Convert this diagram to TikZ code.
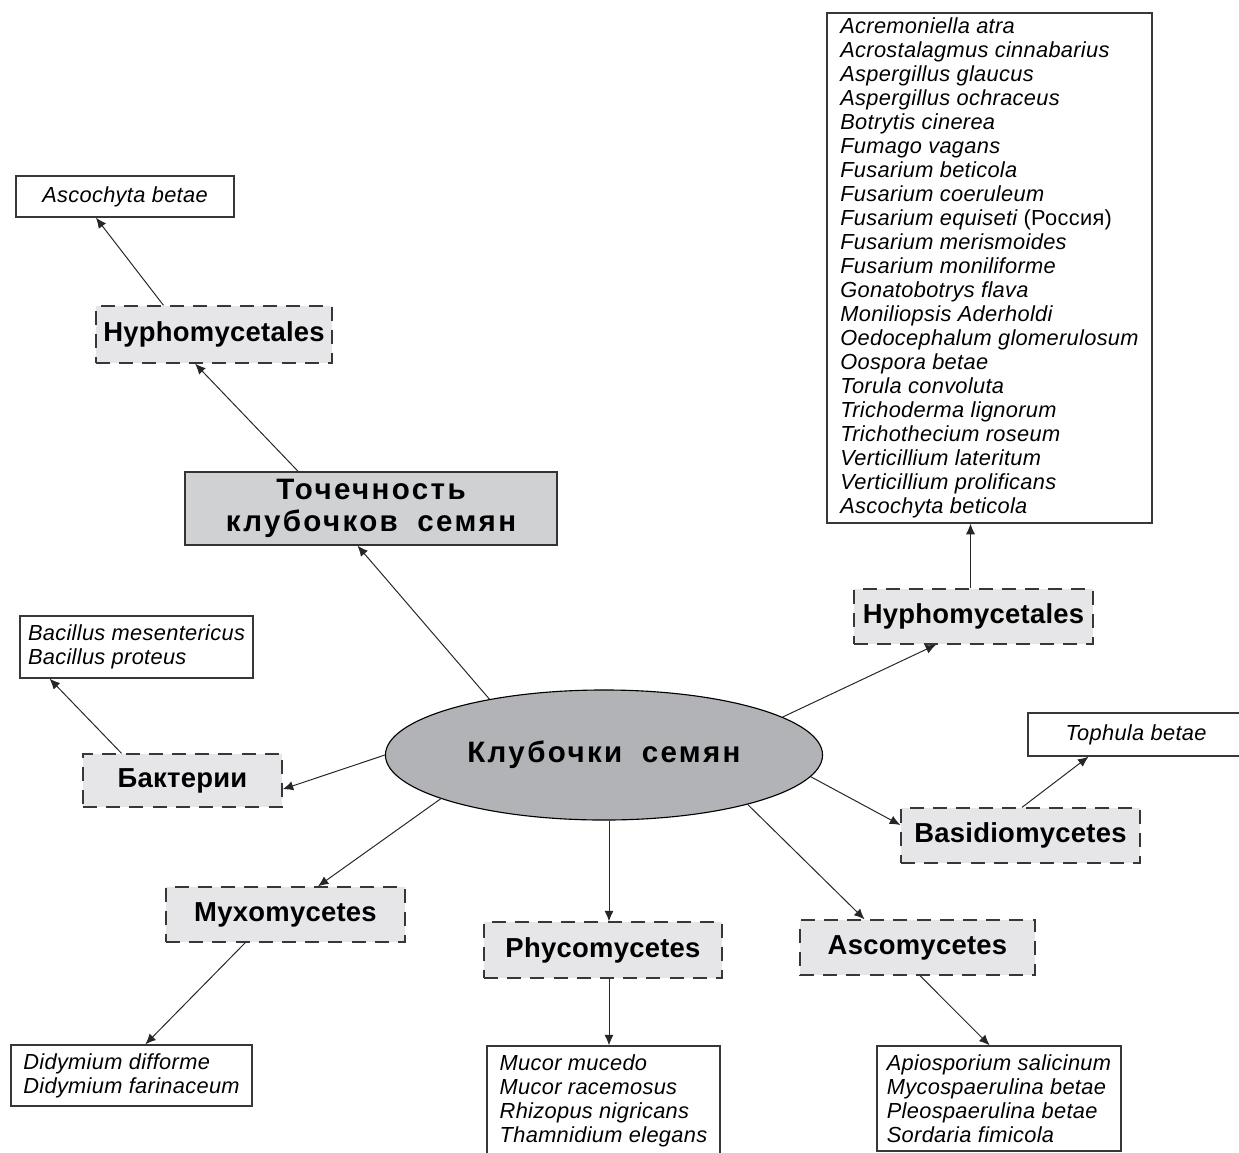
\documentclass[tikz,border=0pt]{standalone}
\usepackage{fontspec}
\setmainfont{Liberation Sans}
\usetikzlibrary{shapes.geometric, arrows.meta}

\definecolor{rootgray}{RGB}{178,179,182}
\definecolor{boxgray}{RGB}{208,209,211}
\definecolor{groupgray}{RGB}{230,230,232}
\definecolor{linegray}{RGB}{55,55,55}

\tikzset{
->, % every connector gets an arrow head
>={Latex[length=7.5pt,width=6.5pt]}, % small filled heads
x=0.025cm, y=-0.025cm, % one unit is one pixel of the layout, y runs down
every edge/.style={draw, line width=0.7pt, black!85}, % thin connectors
group/.style={draw=linegray, line width=0.9pt, dash pattern=on 10pt off 6.5pt, fill=groupgray, inner sep=0pt, font=\fontsize{19.5}{22}\selectfont\bfseries\addfontfeatures{LetterSpace=1}}, % dashed class boxes
title/.style={draw=black!80, line width=0.9pt, align=center, font=\fontsize{21}{22.8}\selectfont\bfseries\addfontfeatures{LetterSpace=8}}, % the two big labels
species/.style={draw=linegray, line width=0.9pt, fill=white, inner sep=0pt, align=left, font=\fontsize{15.5}{17.07}\selectfont\itshape\addfontfeatures{LetterSpace=1.5}}, % lists of species
}

\begin{document}
\begin{tikzpicture}
        \useasboundingbox (0,0) rectangle (1239,1153);
        \clip (0,0) rectangle (1239,1153);

        % centre
        \node[title, ellipse, draw=black, line width=0.8pt, fill=rootgray, minimum width=10.925cm, minimum height=3.25cm] (root) at (604,755) {Клубочки\hspace{0.3em} семян};
        \node[title, fill=boxgray, minimum width=9.3cm, minimum height=1.825cm] (tochka) at (371,508.5) {Точечность\\клубочков\hspace{0.3em} семян};

        % classes
        \node[group, minimum width=5.9cm, minimum height=1.425cm] (hyphoA) at (214,334.5) {Hyphomycetales};
        \node[group, minimum width=5.975cm, minimum height=1.375cm] (hyphoB) at (973.5,616.5) {Hyphomycetales};
        \node[group, minimum width=4.975cm, minimum height=1.325cm] (bakt) at (182.5,780.5) {Бактерии};
        \node[group, minimum width=5.975cm, minimum height=1.375cm] (basidio) at (1020.5,835.5) {Basidiomycetes};
        \node[group, minimum width=5.975cm, minimum height=1.375cm] (myxo) at (285.5,914.5) {Myxomycetes};
        \node[group, minimum width=5.95cm, minimum height=1.4cm] (phyco) at (603,950) {Phycomycetes};
        \node[group, minimum width=5.875cm, minimum height=1.375cm] (asco) at (917.5,947.5) {Ascomycetes};

        % species
        \node[species, minimum width=5.45cm, minimum height=1.025cm, align=center] (betae) at (125,196.5) {Ascochyta betae};
        \node[species, minimum width=8.125cm, minimum height=12.75cm] (hyphoList) at (989.5,268) {Acremoniella atra\\Acrostalagmus cinnabarius\\Aspergillus glaucus\\Aspergillus ochraceus\\Botrytis cinerea\\Fumago vagans\\Fusarium beticola\\Fusarium coeruleum\\Fusarium equiseti {\upshape(Россия)}\\Fusarium merismoides\\Fusarium moniliforme\\Gonatobotrys flava\\Moniliopsis Aderholdi\\Oedocephalum glomerulosum\\Oospora betae\\Torula convoluta\\Trichoderma lignorum\\Trichothecium roseum\\Verticillium lateritum\\Verticillium prolificans\\Ascochyta beticola};
        \node[species, minimum width=5.4cm, minimum height=1.075cm, align=center] (tophula) at (1136,734.5) {Tophula betae};
        \node[species, minimum width=5.825cm, minimum height=1.55cm] (bacil) at (136.5,647) {Bacillus mesentericus\\Bacillus proteus};
        \node[species, minimum width=6.025cm, minimum height=1.525cm] (didym) at (131.5,1075.5) {Didymium difforme\\Didymium farinaceum};
        \node[species, minimum width=5.825cm, minimum height=2.75cm] (mucor) at (603.5,1101) {Mucor mucedo\\Mucor racemosus\\Rhizopus nigricans\\Thamnidium elegans};
        \node[species, minimum width=6.1cm, minimum height=2.625cm] (apios) at (999,1098.5) {Apiosporium salicinum\\Mycospaerulina betae\\Pleospaerulina betae\\Sordaria fimicola};

        \path (root.154) edge (tochka.-110);
        \path (tochka.153) edge (hyphoA.-123);
        \path (hyphoA.150) edge (betae.-144);
        \path (root.12) edge (hyphoB.-143.5);
        \path ([xshift=-0.075cm]hyphoB.north) edge ([xshift=-0.075cm]hyphoB.north |- hyphoList.south);
        \path (root.180) edge (bakt.-5);
        \path (bakt.156) edge (bacil.-160);
        \path (root.-6) edge (basidio.175.4);
        \path (basidio.87) edge (tophula.-155);
        \path (root.-165) edge (myxo.41);
        \path (myxo.-145) edge (didym.66);
        \path ([xshift=0.15cm]phyco.north |- root.south) edge ([xshift=0.15cm]phyco.north);
        \path ([xshift=0.15cm]phyco.south) edge ([xshift=0.15cm]phyco.south |- mucor.north);
        \path (root.-19) edge (asco.152);
        \path (asco.-85) edge (apios.100);
    \end{tikzpicture}
\end{document}
